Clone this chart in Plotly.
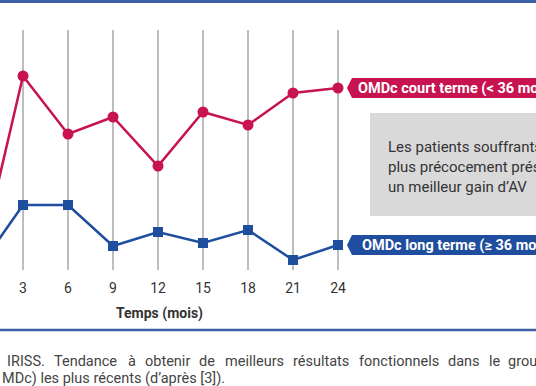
import plotly.graph_objects as go

# ---- data ----
months = [0, 3, 6, 9, 12, 15, 18, 21, 24]
court_terme = [0, 9.65, 6.75, 7.6, 5.15, 7.85, 7.2, 8.8, 9.05]   # OMDc court terme (< 36 mois)
long_terme = [0, 3.2, 3.2, 1.15, 1.85, 1.3, 1.95, 0.45, 1.2]     # OMDc long terme (>= 36 mois)
tick_vals = [3, 6, 9, 12, 15, 18, 21, 24]
tick_text = [str(v) for v in tick_vals]
label_court = "OMDc court terme (< 36 mois)"
label_long = "OMDc long terme (≥ 36 mois)"
x_title = "Temps (mois)"
box_lines = ["Les patients souffrants depuis", "plus précocement présentent", "un meilleur gain d’AV"]
caption_words_1 = ["IRISS.", "Tendance", "à", "obtenir", "de", "meilleurs", "résultats",
                   "fonctionnels", "dans", "le", "groupe"]
caption_line_2 = "MDc) les plus récents (d’après [3])."

RED = "#C7134F"
BLUE = "#1F4E9E"
FONT = "Roboto"

W, H = 536, 386
MT, MB = 30, 116
PH = H - MT - MB


def px(x):
    return x / W


def py(y):
    return 1 - (y - MT) / PH


fig = go.Figure()
fig.add_trace(go.Scatter(x=months, y=court_terme, mode="lines+markers",
                         line=dict(color=RED, width=2.5),
                         marker=dict(symbol="circle", size=11, color=RED),
                         cliponaxis=True, showlegend=False))
fig.add_trace(go.Scatter(x=months, y=long_terme, mode="lines+markers",
                         line=dict(color=BLUE, width=2.5),
                         marker=dict(symbol="square", size=10, color=BLUE),
                         cliponaxis=True, showlegend=False))

shapes = []
# tags attached to the last points
for val, col in [(court_terme[-1], RED), (long_terme[-1], BLUE)]:
    shapes.append(dict(type="path", xref="x", yref="y",
                       xsizemode="pixel", ysizemode="pixel",
                       xanchor=months[-1], yanchor=val,
                       path="M 9,0 L 14,10 L 260,10 L 260,-10 L 14,-10 Z",
                       fillcolor=col, line=dict(width=0), layer="above"))
# grey box
shapes.append(dict(type="rect", xref="paper", yref="paper",
                   x0=px(370), x1=px(545), y0=py(216), y1=py(113),
                   fillcolor="#D9D9D9", line=dict(width=0), layer="below"))
# top & bottom rules
shapes.append(dict(type="line", xref="paper", yref="paper", x0=-0.01, x1=1.01,
                   y0=py(1.5), y1=py(1.5), line=dict(color="#3D5FA6", width=3)))
shapes.append(dict(type="line", xref="paper", yref="paper", x0=-0.01, x1=1.01,
                   y0=py(330), y1=py(330), line=dict(color="#3D5FA6", width=2.5)))

annotations = []
annotations.append(dict(x=months[-1], y=court_terme[-1], xref="x", yref="y",
                        text="<b>" + label_court + "</b>", showarrow=False,
                        xanchor="left", yanchor="middle", xshift=18,
                        font=dict(family=FONT, size=14.5, color="white")))
annotations.append(dict(x=months[-1], y=long_terme[-1], xref="x", yref="y",
                        text="<b>" + label_long + "</b>", showarrow=False,
                        xanchor="left", yanchor="middle", xshift=22,
                        font=dict(family=FONT, size=14.5, color="white")))
for t, yy in zip(box_lines, [147, 167, 187]):
    annotations.append(dict(x=px(386), y=py(yy), xref="paper", yref="paper",
                            text=t, showarrow=False, xanchor="left", yanchor="middle",
                            font=dict(family=FONT, size=15, color="#333333")))
annotations.append(dict(x=12.1, y=py(313), xref="x", yref="paper",
                        text="<b>" + x_title + "</b>", showarrow=False,
                        xanchor="center", yanchor="middle",
                        font=dict(family=FONT, size=14, color="#333333")))
word_x = [5, 52, 125.5, 143, 197, 222.5, 291, 356.5, 446, 487, 506]
for w, wx in zip(caption_words_1, word_x):
    annotations.append(dict(x=px(wx), y=py(361), xref="paper", yref="paper",
                            text=w, showarrow=False, xanchor="left", yanchor="middle",
                            font=dict(family=FONT, size=14.5, color="#444444")))
annotations.append(dict(x=px(0), y=py(378), xref="paper", yref="paper",
                        text=caption_line_2, showarrow=False, xanchor="left", yanchor="middle",
                        font=dict(family=FONT, size=14.5, color="#444444")))

fig.update_layout(
    width=W, height=H,
    margin=dict(l=0, r=0, t=MT, b=MB, pad=0),
    paper_bgcolor="white", plot_bgcolor="white",
    shapes=shapes, annotations=annotations,
    xaxis=dict(range=[1.467, 37.2], tickvals=tick_vals, ticktext=tick_text,
               showgrid=True, gridcolor="#BDBDBD", gridwidth=1.5,
               zeroline=False, showline=False,
               ticks="outside", ticklen=5, tickcolor="rgba(0,0,0,0)",
               tickfont=dict(family=FONT, size=14, color="#333333")),
    yaxis=dict(range=[-0.05, 11.95], showgrid=False, zeroline=False,
               showticklabels=False, showline=False),
    font=dict(family=FONT),
)

fig.write_html("out.html", config={"displayModeBar": False},
               post_script="document.body.style.margin='0';document.body.style.overflow='hidden';")
